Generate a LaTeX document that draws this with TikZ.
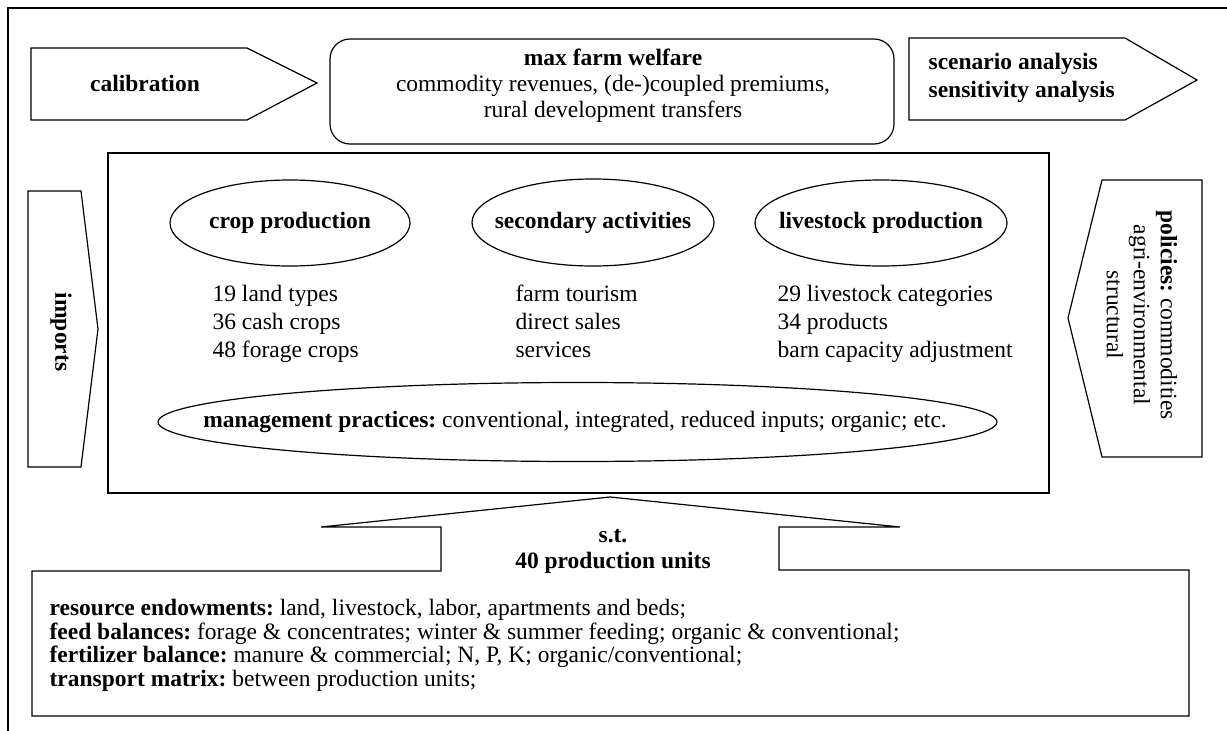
\documentclass[tikz,border=0pt]{standalone}
\usepackage{fontspec}
\setmainfont{Liberation Serif}
\usetikzlibrary{shapes.geometric}
\frenchspacing
\begin{document}
\begin{tikzpicture}[x=1pt,y=-1pt,line width=1.2pt,
  txt/.style={inner sep=0pt,font=\fontsize{23.5}{28}\selectfont},
  btxt/.style={inner sep=0pt,font=\fontsize{23.5}{28}\selectfont\bfseries},
  oval/.style={draw,ellipse,inner sep=0pt},
  shapeline/.style={draw,line join=miter}]
\useasboundingbox (0,0) rectangle (1227,731);
% outer frame
\draw (8,731) -- (8,8) -- (1227,8);
% calibration
\draw[shapeline] (31,48) -- (247,48) -- (317,83) -- (247,120) -- (31,120) -- cycle;
\node[btxt] (calib) at (145,83) {calibration};
% max farm welfare
\node[draw,rounded corners=20pt,minimum width=564pt,minimum height=105pt] (maxbox) at (612,91.5) {};
\node[txt,align=center,font=\fontsize{23.5}{26}\selectfont] (maxtxt) at (613,86) {\textbf{max farm welfare}\\commodity revenues, (de-)coupled premiums,\\rural development transfers};
% scenario
\draw[shapeline] (909,38) -- (1125,38) -- (1197,80) -- (1125,120) -- (909,120) -- cycle;
\node[btxt,align=left,anchor=west,font=\fontsize{23.5}{28.5}\selectfont\bfseries] (scen) at (928,78) {scenario analysis\\sensitivity analysis};
% main box
\node[draw,minimum width=941pt,minimum height=340pt] (main) at (578.5,323) {};
% imports
\draw[shapeline] (28,191) -- (81,191) -- (98,329) -- (81,467) -- (28,467) -- cycle;
\node[btxt,rotate=-90] (imp) at (61,332) {imports};
% policies
\draw[shapeline] (1202,180) -- (1102,180) -- (1068,318) -- (1102,457) -- (1202,457) -- cycle;
\node[txt,rotate=-90,align=center,font=\fontsize{23.5}{27}\selectfont] (pol) at (1142,315) {\textbf{policies:} commodities\\agri-environmental\\structural};
% ellipses
\node[oval,minimum width=240pt,minimum height=86pt] (crop) at (290,223) {};
\node[btxt] (croptxt) at (crop) {crop production};
\node[oval,minimum width=242pt,minimum height=87pt] (sec) at (593,222.5) {};
\node[btxt] (sectxt) at (sec) {secondary activities};
\node[oval,minimum width=252pt,minimum height=86pt] (live) at (881,223) {};
\node[btxt] (livetxt) at (live) {livestock production};
% lists (anchored at baseline of last line)
\node[txt,align=left,anchor=base west] (croplist) at (212,357) {19 land types\\36 cash crops\\48 forage crops};
\node[txt,align=left,anchor=base west] (seclist) at (515,357) {farm tourism\\direct sales\\services};
\node[txt,align=left,anchor=base west] (livelist) at (777,357) {29 livestock categories\\34 products\\barn capacity adjustment};
% management
\node[oval,minimum width=839pt,minimum height=79pt] (mgmt) at (577.5,422) {};
\node[txt] (mgmttxt) at (575,422) {\textbf{management practices:} conventional, integrated, reduced inputs; organic; etc.};
% bottom constraint box with arrow
\draw[shapeline] (32,571) -- (441,571) -- (441,527) -- (321,527) -- (610,497) -- (900,527) -- (779,527) -- (779,570) -- (1189,570) -- (1189,716) -- (32,716) -- cycle;
\node[btxt,align=center,font=\fontsize{23.5}{26}\selectfont\bfseries] (st) at (613,551) {s.t.\\40 production units};
\node[txt,align=left,anchor=base west,font=\fontsize{23.5}{23.5}\selectfont] (cons) at (49,686) {\textbf{resource endowments:} land, livestock, labor, apartments and beds;\\\textbf{feed balances:} forage \& concentrates; winter \& summer feeding; organic \& conventional;\\\textbf{fertilizer balance:} manure \& commercial; N, P, K; organic/conventional;\\\textbf{transport matrix:} between production units;};
\end{tikzpicture}
\end{document}
